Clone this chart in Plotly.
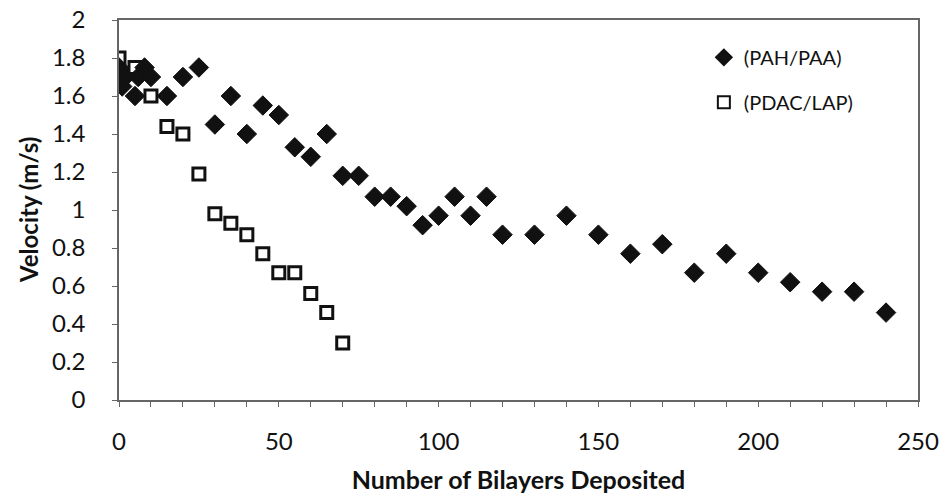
import plotly.graph_objects as go

# PAH/PAA series
pah_x = [0, 1, 2, 5, 6, 8, 10, 15, 20, 25, 30, 35, 40, 45, 50, 55, 60, 65, 70, 75,
         80, 85, 90, 95, 100, 105, 110, 115, 120, 130, 140, 150, 160, 170, 180, 190,
         200, 210, 220, 230, 240]
pah_y = [1.75, 1.65, 1.70, 1.60, 1.70, 1.75, 1.70, 1.60, 1.70, 1.75, 1.45, 1.60, 1.40,
         1.55, 1.50, 1.33, 1.28, 1.40, 1.18, 1.18, 1.07, 1.07, 1.02, 0.92, 0.97, 1.07,
         0.97, 1.07, 0.87, 0.87, 0.97, 0.87, 0.77, 0.82, 0.67, 0.77, 0.67, 0.62, 0.57,
         0.57, 0.46]

# PDAC/LAP series
pdac_x = [0, 5, 10, 15, 20, 25, 30, 35, 40, 45, 50, 55, 60, 65, 70]
pdac_y = [1.80, 1.75, 1.60, 1.44, 1.40, 1.19, 0.98, 0.93, 0.87, 0.77, 0.67, 0.67,
          0.56, 0.46, 0.30]

names = ["(PAH/PAA)", "(PDAC/LAP)"]
x_ticks = [0, 50, 100, 150, 200, 250]
y_ticks = [0, 0.2, 0.4, 0.6, 0.8, 1, 1.2, 1.4, 1.6, 1.8, 2]
y_tick_labels = ["0", "0.2", "0.4", "0.6", "0.8", "1", "1.2", "1.4", "1.6", "1.8", "2"]

FONT = "Lato, Liberation Sans, sans-serif"

fig = go.Figure()
fig.add_trace(go.Scatter(
    x=pah_x, y=pah_y, mode="markers", name=names[0], legendgroup="a",
    marker=dict(symbol="diamond", size=15, color="#111111",
                line=dict(color="#111111", width=1)),
))
fig.add_trace(go.Scatter(
    x=pdac_x, y=pdac_y, mode="markers", name=names[1], legendgroup="b",
    marker=dict(symbol="square-open", size=12, color="#111111",
                line=dict(color="#111111", width=3)),
))

axis_common = dict(
    showline=True, linecolor="#666666", linewidth=1.5, mirror=True,
    showgrid=False, zeroline=False, ticks="outside", tickcolor="#666666",
    ticklen=5, tickwidth=1, automargin=False,
)

fig.update_xaxes(
    range=[0, 250], tickvals=x_ticks, ticktext=[str(v) for v in x_ticks],
    minor=dict(dtick=10, tick0=0, ticks="outside", ticklen=5, tickcolor="#666666"),
    ticklabelstandoff=14,
    tickfont=dict(family=FONT, size=24, color="#111111"),
    title=dict(text="<b>Number of Bilayers Deposited</b>",
               font=dict(family=FONT, size=25, color="#111111"), standoff=18),
    **axis_common,
)
fig.update_yaxes(
    range=[0, 2], tickvals=y_ticks, ticktext=y_tick_labels,
    ticklabelstandoff=22,
    tickfont=dict(family=FONT, size=24, color="#111111"),
    **axis_common,
)

fig.add_annotation(
    text="<b>Velocity (m/s)</b>", textangle=-90,
    xref="paper", yref="paper", x=-(119 - 28) / 799, y=0.5,
    xanchor="center", yanchor="middle", showarrow=False,
    font=dict(family=FONT, size=24, color="#111111"),
)

fig.update_layout(
    width=946, height=502,
    margin=dict(l=119, r=28, t=20, b=102),
    paper_bgcolor="white", plot_bgcolor="white",
    showlegend=True,
    legend=dict(x=0.732, y=0.953, xanchor="left", yanchor="top",
                bgcolor="rgba(0,0,0,0)", font=dict(family=FONT, size=20, color="#111111"),
                itemsizing="constant", tracegroupgap=16, itemwidth=30),
)

fig.write_html("out.html")
